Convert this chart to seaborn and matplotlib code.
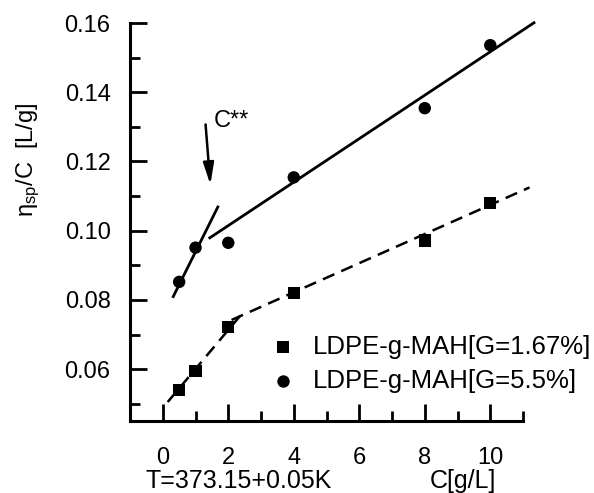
import matplotlib
matplotlib.use("Agg")
import matplotlib.pyplot as plt
import seaborn as sns
import pandas as pd
from matplotlib.ticker import MultipleLocator

# ---- data ----
conc = [0.5, 1, 2, 4, 8, 10]
low_g = [0.0539, 0.0594, 0.0722, 0.0820, 0.0971, 0.1080]     # G=1.67 %
high_g = [0.0852, 0.0951, 0.0965, 0.1154, 0.1354, 0.1536]    # G=5.5 %
series_names = ["LDPE-g-MAH[G=1.67%]", "LDPE-g-MAH[G=5.5%]"]

# fitted lines (end points)
fit_high_a_x = [0.3, 1.7]
fit_high_a_y = [0.0806, 0.1072]
fit_high_b_x = [1.4, 11.37]
fit_high_b_y = [0.0977, 0.1603]
fit_low_a_x = [0.15, 2.4]
fit_low_a_y = [0.0505, 0.0758]
fit_low_b_x = [2.1, 11.2]
fit_low_b_y = [0.0742, 0.1125]

x_ticks = [0, 2, 4, 6, 8, 10]
y_ticks = [0.06, 0.08, 0.10, 0.12, 0.14, 0.16]

df = pd.DataFrame({
    "C": conc * 2,
    "eta": low_g + high_g,
    "series": [series_names[0]] * len(conc) + [series_names[1]] * len(conc),
})

sns.set_style("ticks")
plt.rcParams["font.family"] = ["Liberation Sans", "DejaVu Sans"]
plt.rcParams["mathtext.fontset"] = "custom"
plt.rcParams["mathtext.rm"] = "Liberation Sans"
plt.rcParams["mathtext.it"] = "Liberation Sans"
plt.rcParams["text.color"] = "black"
plt.rcParams["axes.labelcolor"] = "black"
plt.rcParams["xtick.color"] = "black"
plt.rcParams["ytick.color"] = "black"
plt.rcParams["axes.edgecolor"] = "black"

fig = plt.figure(figsize=(5.94, 4.93), dpi=100)
ax = fig.add_axes([0.2189, 0.146, 0.6616, 0.8073])

# fit lines
ax.plot(fit_high_a_x, fit_high_a_y, color="black", lw=2.0, solid_capstyle="butt")
ax.plot(fit_high_b_x, fit_high_b_y, color="black", lw=2.0, clip_on=False, solid_capstyle="butt")
ax.plot(fit_low_a_x, fit_low_a_y, color="black", lw=1.8, ls=(0, (5, 3)))
ax.plot(fit_low_b_x, fit_low_b_y, color="black", lw=1.8, ls=(0, (5, 3)), clip_on=False)

sns.scatterplot(data=df, x="C", y="eta", hue="series", style="series",
                markers={series_names[0]: "s", series_names[1]: "o"},
                palette={series_names[0]: "black", series_names[1]: "black"},
                s=80, edgecolor="black", linewidth=0, ax=ax, legend=False,
                clip_on=False, zorder=3)

ax.set_xlim(-1, 11)
ax.set_ylim(0.045, 0.16)
ax.set_xticks(x_ticks)
ax.set_yticks(y_ticks)
ax.set_xticklabels([str(v) for v in x_ticks])
ax.set_yticklabels([f"{v:.2f}" for v in y_ticks])
ax.xaxis.set_minor_locator(MultipleLocator(1))
ax.yaxis.set_minor_locator(MultipleLocator(0.01))
ax.tick_params(which="major", direction="in", length=12, width=2.0, labelsize=17)
ax.tick_params(axis="y", which="major", pad=14)
ax.tick_params(axis="x", which="major", pad=19)
ax.tick_params(which="minor", direction="in", length=7, width=2.0)
for side in ["top", "right"]:
    ax.spines[side].set_visible(False)
for side in ["left", "bottom"]:
    ax.spines[side].set_linewidth(2.2)

ax.set_xlabel("")
ax.set_ylabel(r"$\mathregular{\eta_{sp}}$/C  [L/g]", fontsize=17)
ax.yaxis.set_label_coords(-0.225, 0.656)

# manual legend
ax.scatter([3.68], [0.0663], marker="s", s=80, color="black", linewidths=0)
ax.scatter([3.68], [0.0565], marker="o", s=80, color="black", linewidths=0)
ax.text(4.58, 0.0663, series_names[0], fontsize=18.5, va="center", ha="left")
ax.text(4.58, 0.0565, series_names[1], fontsize=18.5, va="center", ha="left")

# annotation
ax.annotate("", xy=(1.46, 0.1125), xytext=(1.3, 0.1315),
            arrowprops=dict(arrowstyle="-|>,head_length=1.3,head_width=0.32",
                            color="black", lw=1.8))
ax.text(1.55, 0.1318, "C**", fontsize=17, ha="left", va="center")

fig.text(145 / 594, 1 - 481 / 493, "T=373.15+0.05K", fontsize=18, ha="left", va="center")
fig.text(430 / 594, 1 - 481 / 493, "C[g/L]", fontsize=18, ha="left", va="center")

fig.savefig("out.png", dpi=100)
